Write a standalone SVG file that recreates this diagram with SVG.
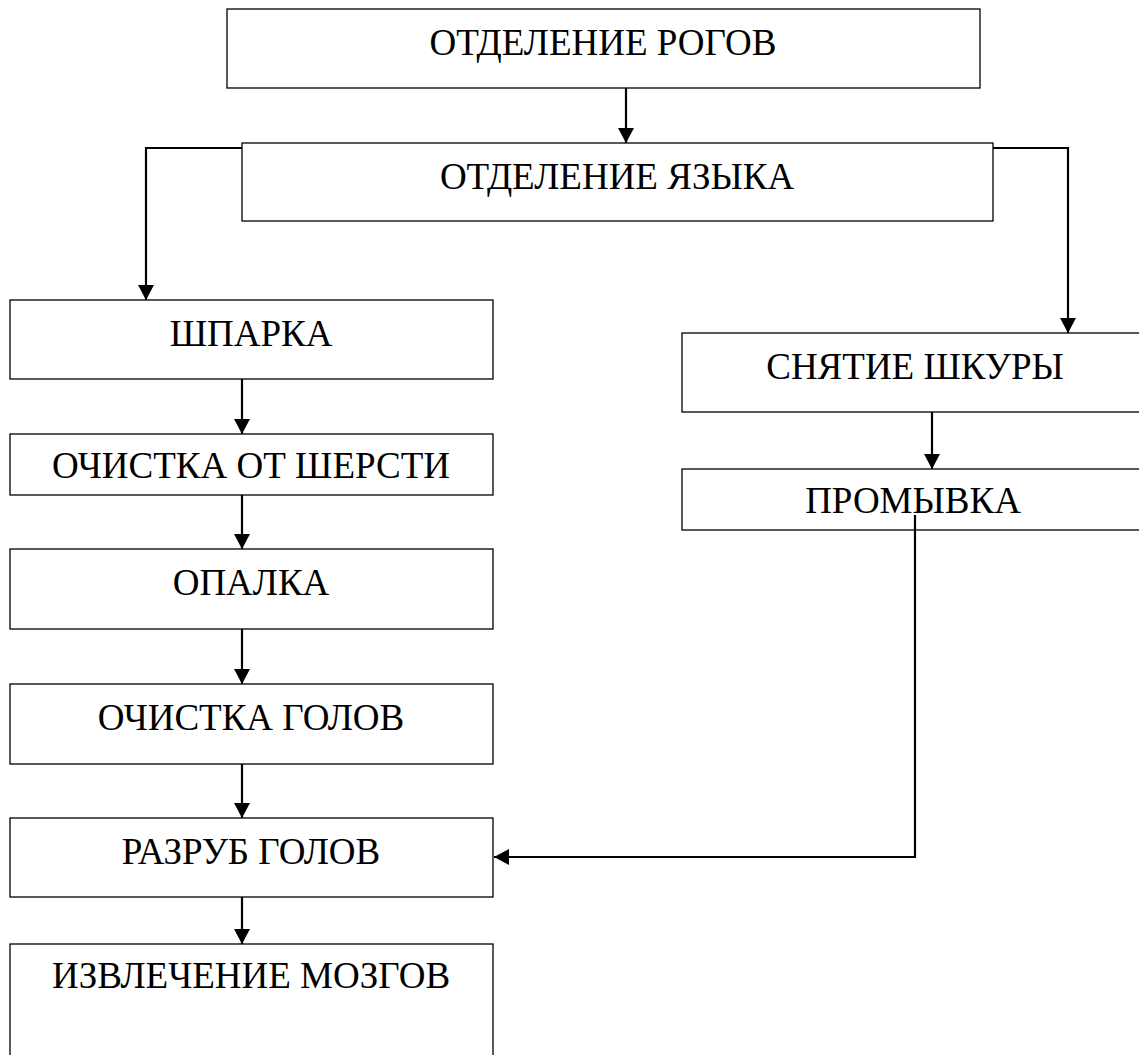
<svg xmlns="http://www.w3.org/2000/svg" width="1139" height="1055" viewBox="0 0 1139 1055">
<style>
.box{fill:#fff;stroke:#000;stroke-width:1.3}
.lbl{font-family:"Liberation Serif","Times New Roman",serif;font-size:37px;fill:#000;text-anchor:middle}
.con{fill:none;stroke:#000;stroke-width:2.2}
</style>
<defs>
<marker id="ah" markerWidth="16" markerHeight="16" viewBox="0 0 16 16" refX="15" refY="8" orient="auto" markerUnits="userSpaceOnUse">
<path d="M0,0 L15,8 L0,16 Z" fill="#000"/>
</marker>
</defs>
<rect width="1139" height="1055" fill="#fff"/>
<g id="n1"><rect class="box" x="227" y="9" width="753" height="79"/><text class="lbl" x="603" y="55">ОТДЕЛЕНИЕ РОГОВ</text></g>
<g id="n2"><rect class="box" x="242" y="143" width="751" height="78"/><text class="lbl" x="617" y="189">ОТДЕЛЕНИЕ ЯЗЫКА</text></g>
<g id="n3"><rect class="box" x="10" y="300" width="483" height="79"/><text class="lbl" x="251" y="346">ШПАРКА</text></g>
<g id="n4"><rect class="box" x="10" y="434" width="483" height="61"/><text class="lbl" x="251" y="478">ОЧИСТКА ОТ ШЕРСТИ</text></g>
<g id="n5"><rect class="box" x="10" y="549" width="483" height="80"/><text class="lbl" x="251" y="595">ОПАЛКА</text></g>
<g id="n6"><rect class="box" x="10" y="684" width="483" height="80"/><text class="lbl" x="251" y="730">ОЧИСТКА ГОЛОВ</text></g>
<g id="n7"><rect class="box" x="10" y="818" width="483" height="79"/><text class="lbl" x="251" y="864">РАЗРУБ ГОЛОВ</text></g>
<g id="n8"><rect class="box" x="10" y="944" width="483" height="130"/><text class="lbl" x="251" y="988">ИЗВЛЕЧЕНИЕ МОЗГОВ</text></g>
<g id="n9"><rect class="box" x="682" y="333" width="470" height="79"/><text class="lbl" x="915" y="379">СНЯТИЕ ШКУРЫ</text></g>
<g id="n10"><rect class="box" x="682" y="469" width="470" height="61"/><text class="lbl" x="913" y="513">ПРОМЫВКА</text></g>
<g id="connectors">
<path class="con" d="M626,88 V143" marker-end="url(#ah)"/>
<path class="con" d="M242,148 H146 V300" marker-end="url(#ah)"/>
<path class="con" d="M993,148 H1068 V333" marker-end="url(#ah)"/>
<path class="con" d="M242,379 V434" marker-end="url(#ah)"/>
<path class="con" d="M242,495 V549" marker-end="url(#ah)"/>
<path class="con" d="M242,629 V684" marker-end="url(#ah)"/>
<path class="con" d="M242,764 V818" marker-end="url(#ah)"/>
<path class="con" d="M242,897 V944" marker-end="url(#ah)"/>
<path class="con" d="M932,412 V469" marker-end="url(#ah)"/>
<path class="con" d="M915,515 V857 H494" marker-end="url(#ah)"/>
</g>
</svg>
